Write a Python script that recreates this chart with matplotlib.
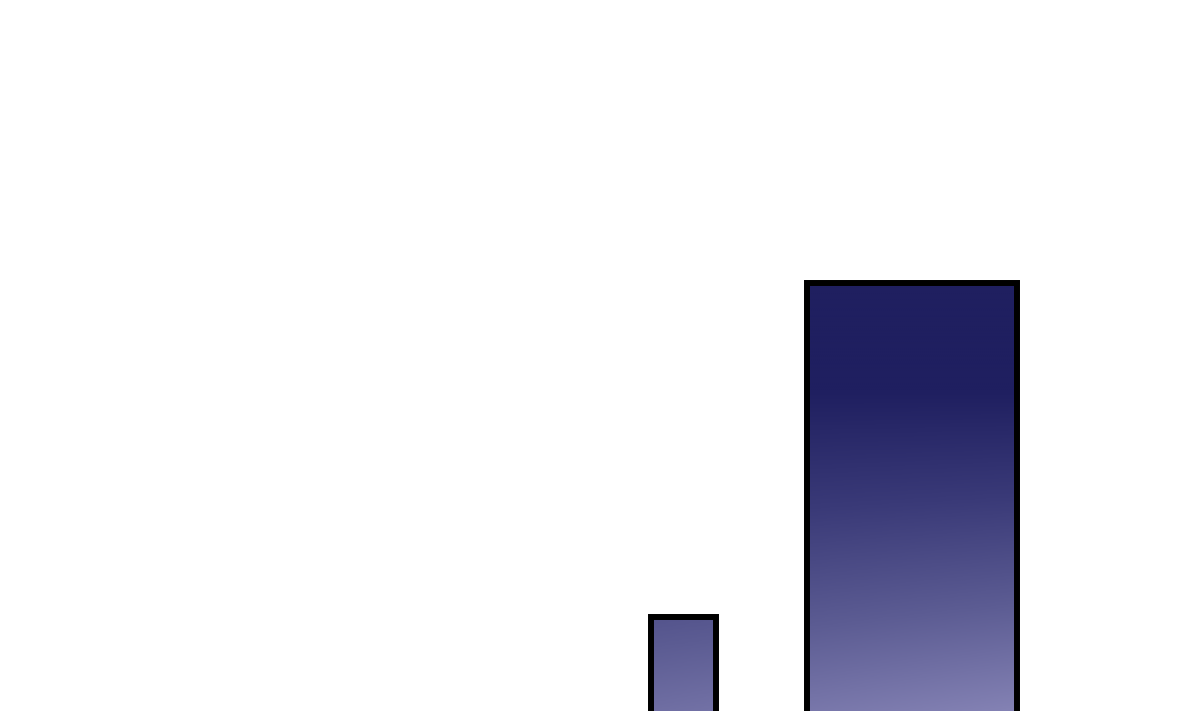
import matplotlib
matplotlib.use('Agg')
import matplotlib.pyplot as plt
import numpy as np
from matplotlib.colors import LinearSegmentedColormap

# data (zoomed-in view of a variable-width bar chart)
categories = ['B', 'C']
centers = [6.835, 9.12]
widths = [0.65, 2.1]
values = [2.94, 6.28]

cmap = LinearSegmentedColormap.from_list('navy_fade', ['#1f1f60', '#3a3a78', '#5c5c93', '#8482b4'])

fig = plt.figure(figsize=(12, 7.11), dpi=100)
ax = fig.add_axes([0, 0, 1, 1])
ax.set_xlim(0, 12)
ax.set_ylim(2, 9.11)
ax.axis('off')

bars = ax.bar(centers, values, width=widths, color='none',
              edgecolor='black', linewidth=4.3, zorder=3)

# gradient: flat dark navy down to y~5.2, then lightening toward the bottom (a bit more on the right)
xx, yy = np.meshgrid(np.linspace(0, 12, 600), np.linspace(2, 9.11, 400))
t = np.clip((5.2 - yy) / 3.2, 0, 1)
t = np.clip(t * (0.9 + 0.1 * (xx - 8.1) / 2.1), 0, 1)

for b in bars:
    im = ax.imshow(t, extent=(0, 12, 2, 9.11), origin='lower', cmap=cmap,
                   vmin=0, vmax=1, aspect='auto', zorder=2, interpolation='bilinear')
    im.set_clip_path(b)

fig.savefig('out.png', dpi=100, facecolor='white')
